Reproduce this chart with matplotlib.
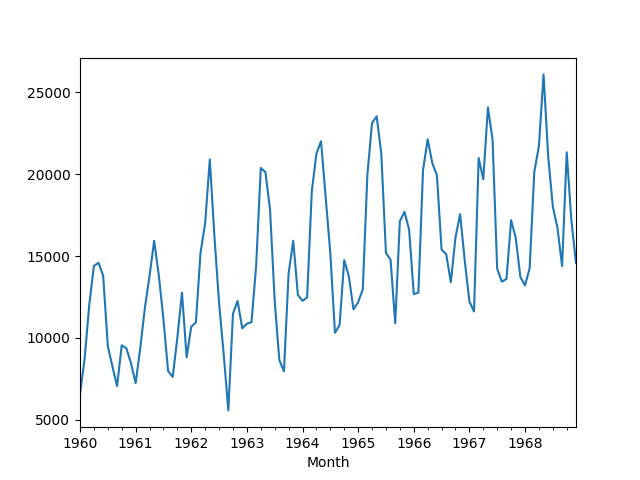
import matplotlib
matplotlib.use("Agg")
import matplotlib.pyplot as plt
import pandas as pd

# Monthly car sales, 1960-1968
sales = [
    6550, 8728, 12026, 14395, 14587, 13791, 9498, 8251, 7049, 9545, 9364, 8456,
    7237, 9374, 11837, 13784, 15926, 13821, 11143, 7975, 7610, 10015, 12759, 8816,
    10677, 10947, 15200, 17010, 20900, 16205, 12143, 8997, 5568, 11474, 12256, 10583,
    10862, 10965, 14405, 20379, 20128, 17816, 12268, 8642, 7962, 13932, 15936, 12628,
    12267, 12470, 18944, 21259, 22015, 18581, 15175, 10306, 10792, 14752, 13754, 11738,
    12181, 12965, 19990, 23125, 23541, 21247, 15189, 14767, 10895, 17130, 17697, 16611,
    12674, 12760, 20249, 22135, 20677, 19933, 15388, 15113, 13401, 16135, 17562, 14720,
    12225, 11608, 20985, 19692, 24081, 22114, 14220, 13434, 13598, 17187, 16119, 13713,
    13210, 14251, 20139, 21725, 26099, 21084, 18024, 16722, 14385, 21342, 17180, 14577,
]
months = pd.date_range("1960-01", periods=len(sales), freq="MS")

series = pd.Series(sales, index=months, name="Sales")
series.index.name = "Month"

fig, ax = plt.subplots(figsize=(6.4, 4.8), dpi=100)
series.plot(ax=ax)
fig.savefig("out.png")
